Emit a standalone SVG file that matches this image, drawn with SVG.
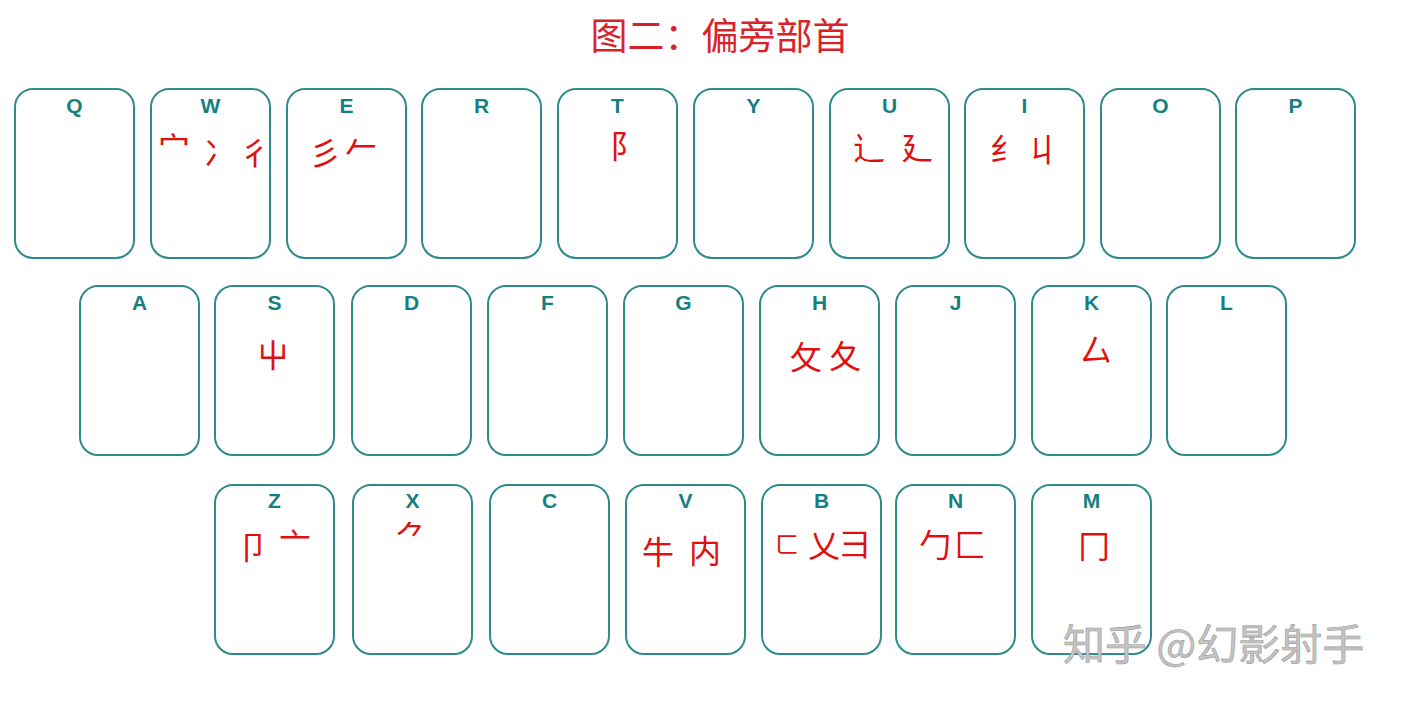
<svg xmlns="http://www.w3.org/2000/svg" width="1404" height="701" viewBox="0 0 1404 701">
<style>
.k{fill:#fff;stroke:#2e8b8b;stroke-width:2}
.l{font-family:"Liberation Sans",Arial,sans-serif;font-weight:bold;font-size:21px;fill:#167f80;text-anchor:middle}
.r{font-family:"Noto Sans CJK SC",sans-serif;font-size:32px;fill:#e01010;text-anchor:middle}
.t{font-family:"Noto Sans CJK SC",sans-serif;font-size:37px;fill:#d9232a;text-anchor:middle}
.w{font-family:"Noto Sans CJK SC",sans-serif;font-size:42px;fill:#c4c4c4;stroke:#9a9a9a;stroke-width:0.6}
</style>
<rect width="1404" height="701" fill="#fff"/>
<text class="t" x="720" y="50">图二：偏旁部首</text>
<defs><rect id="key" width="119" height="169" rx="18" ry="18"/></defs>
<g id="key-Q"><use href="#key" class="k" x="15" y="89"/><text class="l" x="74.5" y="113">Q</text></g>
<g id="key-W"><use href="#key" class="k" x="151" y="89"/><text class="l" x="210.5" y="113">W</text><text class="r" x="174" y="160">宀</text><text class="r" x="220" y="165">冫</text><text class="r" x="255" y="165">彳</text></g>
<g id="key-E"><use href="#key" class="k" x="287" y="89"/><text class="l" x="346.5" y="113">E</text><text class="r" x="325" y="165">彡</text><text class="r" x="361" y="160">𠂉</text></g>
<g id="key-R"><use href="#key" class="k" x="422" y="89"/><text class="l" x="481.5" y="113">R</text></g>
<g id="key-T"><use href="#key" class="k" x="558" y="89"/><text class="l" x="617.5" y="113">T</text><text class="r" x="626" y="158">阝</text></g>
<g id="key-U"><use href="#key" class="k" x="830" y="89"/><text class="l" x="889.5" y="113">U</text><text class="r" x="869" y="160">辶</text><text class="r" x="917" y="160">廴</text></g>
<g id="key-Y"><use href="#key" class="k" x="694" y="89"/><text class="l" x="753.5" y="113">Y</text></g>
<g id="key-I"><use href="#key" class="k" x="965" y="89"/><text class="l" x="1024.5" y="113">I</text><text class="r" x="1006" y="161">纟</text><text class="r" x="1043" y="162">丩</text></g>
<g id="key-O"><use href="#key" class="k" x="1101" y="89"/><text class="l" x="1160.5" y="113">O</text></g>
<g id="key-P"><use href="#key" class="k" x="1236" y="89"/><text class="l" x="1295.5" y="113">P</text></g>
<g id="key-A"><use href="#key" class="k" x="80" y="286"/><text class="l" x="139.5" y="310">A</text></g>
<g id="key-S"><use href="#key" class="k" x="215" y="286"/><text class="l" x="274.5" y="310">S</text><text class="r" x="273" y="367">屮</text></g>
<g id="key-D"><use href="#key" class="k" x="352" y="286"/><text class="l" x="411.5" y="310">D</text></g>
<g id="key-F"><use href="#key" class="k" x="488" y="286"/><text class="l" x="547.5" y="310">F</text></g>
<g id="key-G"><use href="#key" class="k" x="624" y="286"/><text class="l" x="683.5" y="310">G</text></g>
<g id="key-H"><use href="#key" class="k" x="760" y="286"/><text class="l" x="819.5" y="310">H</text><text class="r" x="806" y="369">攵</text><text class="r" x="845" y="368">夂</text></g>
<g id="key-J"><use href="#key" class="k" x="896" y="286"/><text class="l" x="955.5" y="310">J</text></g>
<g id="key-K"><use href="#key" class="k" x="1032" y="286"/><text class="l" x="1091.5" y="310">K</text><text class="r" x="1096" y="362">厶</text></g>
<g id="key-L"><use href="#key" class="k" x="1167" y="286"/><text class="l" x="1226.5" y="310">L</text></g>
<g id="key-Z"><use href="#key" class="k" x="215" y="485"/><text class="l" x="274.5" y="508">Z</text><text class="r" x="253" y="559">卩</text><text class="r" x="295" y="556">亠</text></g>
<g id="key-X"><use href="#key" class="k" x="353" y="485"/><text class="l" x="412.5" y="508">X</text><text class="r" x="411" y="549">⺈</text></g>
<g id="key-C"><use href="#key" class="k" x="490" y="485"/><text class="l" x="549.5" y="508">C</text></g>
<g id="key-V"><use href="#key" class="k" x="626" y="485"/><text class="l" x="685.5" y="508">V</text><text class="r" x="658" y="564">牛</text><text class="r" x="705" y="563">内</text></g>
<g id="key-B"><use href="#key" class="k" x="762" y="485"/><text class="l" x="821.5" y="508">B</text><text class="r" x="787" y="553" style="font-size:24px">ㄈ</text><text class="r" x="824" y="557">乂</text><text class="r" x="855" y="556">彐</text></g>
<g id="key-N"><use href="#key" class="k" x="896" y="485"/><text class="l" x="955.5" y="508">N</text><text class="r" x="935" y="557">勹</text><text class="r" x="970" y="557">匚</text></g>
<g id="key-M"><use href="#key" class="k" x="1032" y="485"/><text class="l" x="1091.5" y="508">M</text><text class="r" x="1094" y="558">冂</text></g>
<g id="connectors"/>
<text class="w" x="1063" y="660">知乎 @幻影射手</text>
</svg>
